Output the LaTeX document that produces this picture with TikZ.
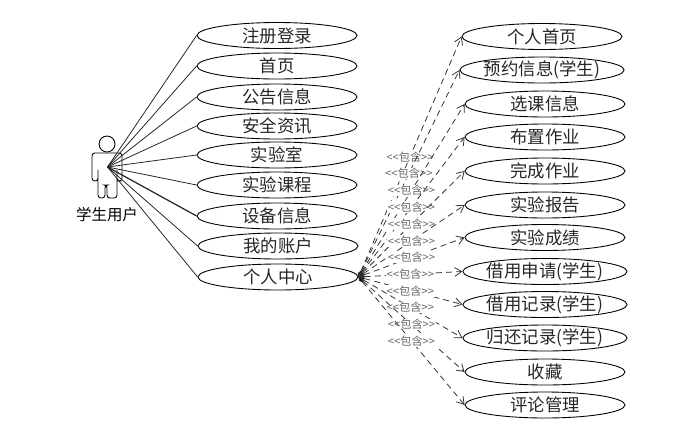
\documentclass[tikz,border=0pt]{standalone}
\usepackage{fontspec}
\setmainfont{Noto Sans CJK SC}
\usetikzlibrary{shapes.geometric,arrows.meta}
\newcommand{\inclabel}{<{}<包含>{}>}
\tikzset{
  usecase/.style={draw,ellipse,minimum width=3.2cm,minimum height=.52cm,inner sep=0pt,line width=.5pt,font=\fontsize{9.9pt}{10pt}\selectfont,text=black!85},
  assoc/.style={line width=.45pt,black!85},
  incl/.style={line width=.45pt,black!80,dash pattern=on 3.4pt off 2.4pt,{Diamond[length=4pt,width=2.2pt,fill=black]}-{Straight Barb[length=4pt,width=5pt]}},
  incllabel/.style={fill=white,inner sep=.4pt,text=black!60,font=\fontsize{6.4pt}{7pt}\selectfont}
}
\begin{document}
\begin{tikzpicture}[x=.02cm,y=-.02cm]
  \useasboundingbox (0,0) rectangle (690,433);
  % student on the left
  \node[draw,circle,minimum size=.32cm,inner sep=0pt,line width=.5pt] (head) at (107,144) {};
  \draw[line width=.5pt,rounded corners=1.6pt] (92,181)--(92,153)--(122,153)--(122,181)--(117,181)--(117,168)--(117,198)--(107,198)--(107,185)--(105,185)--(105,198)--(98,198)--(98,168)--(98,181)--cycle;
  \coordinate (student) at (107.5,167);
  \node[font=\fontsize{8.8pt}{10pt}\selectfont] (studentname) at (107,214.5) {学生用户};
  % left column
  \node[usecase] (login) at (277,35.5) {注册登录};
  \node[usecase] (home) at (277,66) {首页};
  \node[usecase] (notice) at (277,97) {公告信息};
  \node[usecase] (safety) at (277,126) {安全资讯};
  \node[usecase] (lab) at (277,155) {实验室};
  \node[usecase] (course) at (277,185) {实验课程};
  \node[usecase] (device) at (277,216) {设备信息};
  \node[usecase] (account) at (278,246) {我的账户};
  \node[usecase] (center) at (278,277) {个人中心};
  % right column
  \node[usecase] (myhome) at (542,36.5) {个人首页};
  \node[usecase] (booking) at (542,70) {预约信息(学生)};
  \node[usecase] (select) at (545,104) {选课信息};
  \node[usecase] (assign) at (545,137) {布置作业};
  \node[usecase] (finish) at (545,171) {完成作业};
  \node[usecase] (report) at (545,205) {实验报告};
  \node[usecase] (score) at (545,237.5) {实验成绩};
  \node[usecase] (borrow) at (545,271.5) {借用申请(学生)};
  \node[usecase] (record) at (545,304.5) {借用记录(学生)};
  \node[usecase] (giveback) at (545,338) {归还记录(学生)};
  \node[usecase] (favour) at (545,372) {收藏};
  \node[usecase] (comment) at (545,405) {评论管理};
  % student to left column
  \draw[assoc] (student)--(login.west);
  \draw[assoc] (student)--(home.west);
  \draw[assoc] (student)--(notice.west);
  \draw[assoc] (student)--(safety.west);
  \draw[assoc] (student)--(lab.west);
  \draw[assoc] (student)--(course.west);
  \draw[assoc,line width=.7pt] (student)--(device.west);
  \draw[assoc] (student)--(account.west);
  \draw[assoc] (student)--(center.west);
  % includes
  \draw[incl] (center.east)--node[incllabel] (inc1) {\inclabel} (myhome.west);
  \draw[incl] (center.east)--node[incllabel] (inc2) {\inclabel} (booking.west);
  \draw[incl] (center.east)--node[incllabel] (inc3) {\inclabel} (select.west);
  \draw[incl] (center.east)--node[incllabel] (inc4) {\inclabel} (assign.west);
  \draw[incl] (center.east)--node[incllabel] (inc5) {\inclabel} (finish.west);
  \draw[incl] (center.east)--node[incllabel] (inc6) {\inclabel} (report.west);
  \draw[incl] (center.east)--node[incllabel] (inc7) {\inclabel} (score.west);
  \draw[incl] (center.east)--node[incllabel] (inc8) {\inclabel} (borrow.west);
  \draw[incl] (center.east)--node[incllabel] (inc9) {\inclabel} (record.west);
  \draw[incl] (center.east)--node[incllabel] (inc10) {\inclabel} (giveback.west);
  \draw[incl] (center.east)--node[incllabel] (inc11) {\inclabel} (favour.west);
  \draw[incl] (center.east)--node[incllabel] (inc12) {\inclabel} (comment.west);
\end{tikzpicture}
\end{document}
